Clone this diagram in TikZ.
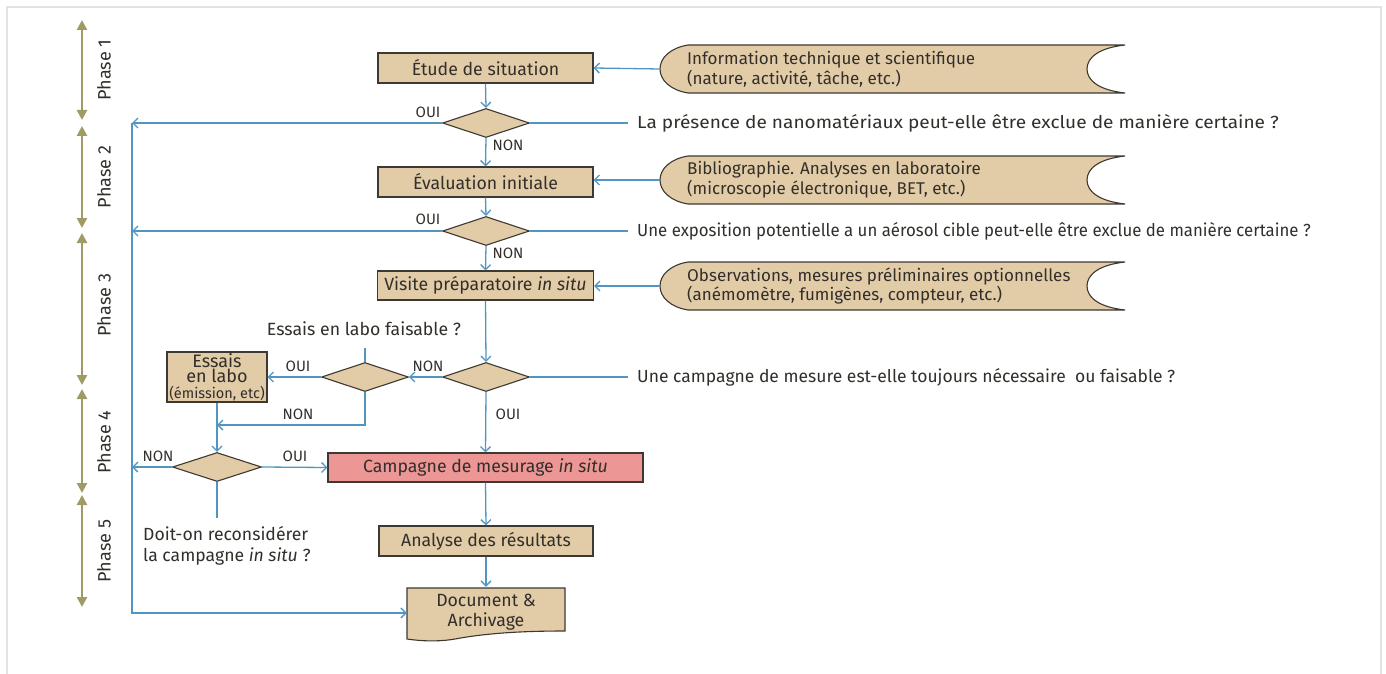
\documentclass[tikz,border=0pt]{standalone}
\usepackage{fontspec}
\setmainfont{Fira Sans}
\usetikzlibrary{arrows.meta,shapes.geometric}
\definecolor{beige}{RGB}{226,204,168}
\definecolor{edge}{RGB}{62,56,50}
\definecolor{flowblue}{RGB}{80,150,195}
\definecolor{phasecol}{RGB}{160,155,100}
\definecolor{pinkbox}{RGB}{236,150,150}
\definecolor{txt}{RGB}{50,46,42}
\definecolor{framegray}{RGB}{226,226,226}
\newcommand\datashape[3]{%
  \draw[draw=edge, fill=beige, line width=1.1pt] (688,#2-24) -- (1125,#2-24)
    .. controls (1098,#2-21) and (1087,#2-11) .. (1087,#2)
    .. controls (1087,#2+11) and (1098,#2+21) .. (1125,#2+24)
    -- (688,#2+24)
    .. controls (670,#2+21) and (660,#2+11) .. (660,#2)
    .. controls (660,#2-11) and (670,#2-21) .. (688,#2-24) -- cycle;
  \coordinate (#1) at (660,#2);
  \node[datatext] (#1-txt) at (687,#2) {#3};
}
\begin{document}
\begin{tikzpicture}[x=1pt,y=-1pt,
  box/.style={draw=edge, fill=beige, line width=1.1pt, minimum height=30pt, inner sep=0pt, font=\fontsize{17.7}{20}\selectfont, text=txt},
  dia/.style={diamond, draw=edge, fill=beige, line width=1.1pt, minimum width=87pt, minimum height=29pt, inner sep=0pt, aspect=3},
  flow/.style={draw=flowblue, line width=1.3pt},
  arr/.style={flow, -{Straight Barb[length=5pt,width=10pt]}},
  lbl/.style={font=\fontsize{15}{17}\selectfont, text=txt, inner sep=0pt},
  ques/.style={font=\fontsize{17.5}{20}\selectfont, anchor=west, inner sep=0pt, text=txt},
  datatext/.style={font=\fontsize{17}{20}\selectfont, anchor=west, align=left, inner sep=0pt, text=txt},
  phasearr/.style={draw=phasecol, line width=2.5pt, {Triangle[length=10pt,width=10pt]}-{Triangle[length=10pt,width=10pt]}},
  phaselbl/.style={rotate=90, font=\fontsize{18}{20}\selectfont, text=txt, inner sep=0pt}
]
\useasboundingbox (0,0) rectangle (1386,674);
% frame
\draw[framegray, line width=1.5pt] (7,674) -- (7,7) -- (1381,7) -- (1381,674);

% phases
\draw[phasearr] (82,20) -- (82,120);
\draw[phasearr] (82,126) -- (82,228);
\draw[phasearr] (82,233) -- (82,385);
\draw[phasearr] (82,389) -- (82,493);
\draw[phasearr] (82,495) -- (82,607);
\node[phaselbl] (p1) at (104,70) {Phase 1};
\node[phaselbl] (p2) at (104,177) {Phase 2};
\node[phaselbl] (p3) at (104,305) {Phase 3};
\node[phaselbl] (p4) at (104,442) {Phase 4};
\node[phaselbl] (p5) at (104,551) {Phase 5};

% main column
\node[box, minimum width=215pt] (etude) at (485.5,68) {Étude de situation};
\node[dia] (d1) at (486,123) {};
\node[box, minimum width=215pt] (evalu) at (485.5,182) {Évaluation initiale};
\node[dia] (d2) at (486,231) {};
\node[box, minimum width=216pt, minimum height=29pt] (visite) at (485.5,285.5) {Visite préparatoire \textit{in situ}};
\node[dia] (d3) at (486,377) {};
\node[dia] (d4) at (365,377) {};
\node[box, minimum width=100pt, minimum height=50pt, align=center, font=\fontsize{18}{15.5}\selectfont] (labo) at (217,377) {Essais\\en labo\\{\fontsize{14.5}{15.5}\selectfont(émission, etc)}};
\node[dia, minimum width=89pt] (d5) at (217,467) {};
\node[box, fill=pinkbox, minimum width=315pt, minimum height=29pt] (camp) at (485.5,467.5) {Campagne de mesurage \textit{in situ}};
\node[box, minimum width=214pt] (analyse) at (486,541) {Analyse des résultats};
% document shape
\draw[draw=edge, fill=beige, line width=1.1pt] (407,588) -- (565,588) -- (565,631)
  .. controls (515,631) and (482,634) .. (455,639)
  .. controls (438,642) and (420,641) .. (407,639) -- cycle;
\node[inner sep=0pt, minimum width=158pt, minimum height=52pt] (doc) at (486,613) {};
\node[font=\fontsize{17.7}{19.5}\selectfont, align=center, text=txt, inner sep=0pt] (doctxt) at (486,612) {Document \&\\Archivage};

% data shapes
\datashape{info1}{69}{Information technique et scientifique\\(nature, activité, tâche, etc.)}
\datashape{info2}{180}{Bibliographie. Analyses en laboratoire\\(microscopie électronique, BET, etc.)}
\datashape{info3}{286}{Observations, mesures préliminaires optionnelles\\(anémomètre, fumigènes, compteur, etc.)}

% questions
\node[ques] (q1) at (637,123) {\scalebox{1.09}[1]{La présence de nanomatériaux peut-elle être exclue de manière certaine ?}};
\node[ques] (q2) at (637,231) {\scalebox{0.96}[1]{Une exposition potentielle a un aérosol cible peut-elle être exclue de manière certaine ?}};
\node[ques] (q3) at (637,377) {Une campagne de mesure est-elle toujours nécessaire\ \ ou faisable ?};
\node[lbl, font=\fontsize{17.7}{20}\selectfont] (q4) at (364,329) {Essais en labo faisable ?};
\node[lbl, font=\fontsize{17.6}{21}\selectfont, anchor=north west, align=left] (q5) at (143,526) {Doit-on reconsidérer\\la campagne \textit{in situ} ?};

% coordinates on left line
\coordinate (L1) at (132,123);
\coordinate (L2) at (132,231);
\coordinate (L5) at (132,467);
\coordinate (Lb) at (132,613);
\coordinate (s1) at (628,123);
\coordinate (s2) at (628,231);
\coordinate (s3) at (628,377);
\coordinate (s4) at (365,348);
\coordinate (s5) at (217,518);
\coordinate (k4) at (365,425);
\coordinate (k5) at (217,425);

% connectors
\draw[arr] (info1) -- (etude.east);
\draw[arr] (info2) -- (evalu.east |- info2);
\draw[arr] (info3) -- (visite.east |- info3);
\draw[arr] (etude.south) -- (d1.north);
\draw[arr] (d1.west) -- (L1);
\draw[arr] (d1.south) -- (evalu.north);
\draw[flow] (d1.east) -- (s1);
\draw[arr] (evalu.south) -- (d2.north);
\draw[arr] (d2.west) -- (L2);
\draw[arr] (d2.south) -- (visite.north);
\draw[flow] (d2.east) -- (s2);
\draw[arr] (visite.south) -- (d3.north);
\draw[flow] (d3.east) -- (s3);
\draw[arr] (d3.west) -- (d4.east);
\draw[arr] (d3.south) -- (camp.north);
\draw[flow] (d4.north) -- (s4);
\draw[arr] (d4.west) -- (labo.east);
\draw[arr] (d4.south) -- (k4) -- (k5);
\draw[arr] (labo.south) -- (d5.north);
\draw[arr] (d5.west) -- (L5);
\draw[arr] (d5.east) -- (camp.west);
\draw[flow] (d5.south) -- (s5);
\draw[arr] (camp.south) -- (analyse.north);
\draw[arr] (analyse.south) -- (doc.north);
\draw[arr] (L1) -- (Lb) -- (doc.west |- Lb);

% labels
\node[lbl] (o1) at (428,112) {OUI};
\node[lbl] (n1) at (508,145) {NON};
\node[lbl] (o2) at (428,219) {OUI};
\node[lbl] (n2) at (508,253) {NON};
\node[lbl] (n3) at (428,366) {NON};
\node[lbl] (o3) at (508,414) {OUI};
\node[lbl] (o4) at (298,366) {OUI};
\node[lbl] (n4) at (298,414) {NON};
\node[lbl] (n5) at (158,456) {NON};
\node[lbl] (o5) at (295,456) {OUI};
\end{tikzpicture}
\end{document}
